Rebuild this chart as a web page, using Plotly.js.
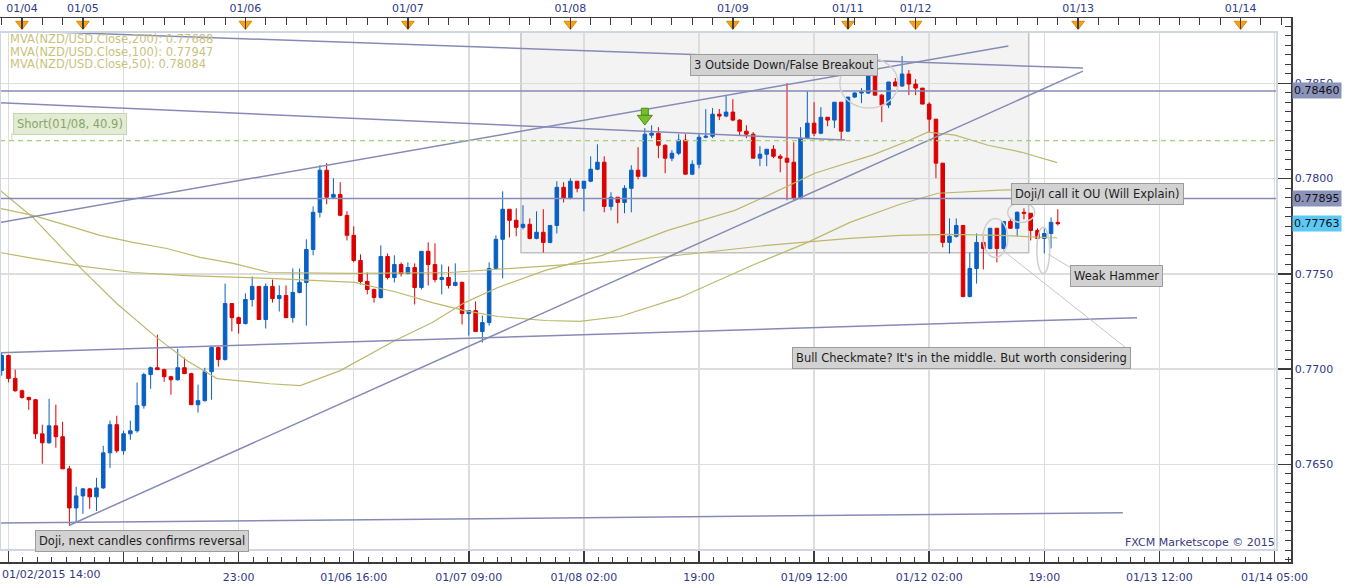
<!DOCTYPE html>
<html><head><meta charset="utf-8">
<script src="https://cdn.plot.ly/plotly-3.0.1.min.js"></script>
<style>html,body{margin:0;padding:0;background:#fff;}#chart{width:1349px;height:588px;}</style>
</head><body><div id="chart"></div>
<script>
// ---------------- data (NZD/USD hourly) ----------------
const open = [0.76992,0.77071,0.76951,0.76886,0.76851,0.76839,0.76660,0.76613,0.76702,0.76645,
0.76476,0.76271,0.76334,0.76371,0.76329,0.76376,0.76560,0.76708,0.76571,0.76660,
0.76676,0.76808,0.76971,0.77007,0.76997,0.76960,0.76944,0.77007,0.76976,0.76813,
0.76834,0.76986,0.77113,0.77050,0.77344,0.77270,0.77239,0.77365,0.77434,0.77260,
0.77434,0.77370,0.77386,0.77270,0.77402,0.77455,0.77628,0.77823,0.78044,0.77902,
0.77917,0.77807,0.77702,0.77570,0.77460,0.77418,0.77376,0.77591,0.77481,0.77549,
0.77502,0.77533,0.77428,0.77618,0.77549,0.77470,0.77481,0.77439,0.77455,0.77291,
0.77307,0.77197,0.77244,0.77528,0.77681,0.77839,0.77781,0.77744,0.77760,0.77686,
0.77718,0.77665,0.77754,0.77954,0.77896,0.77986,0.77949,0.77986,0.78049,0.78086,
0.77854,0.77902,0.77875,0.77949,0.78044,0.78012,0.78228,0.78238,0.78175,0.78107,
0.78133,0.78202,0.78023,0.78075,0.78217,0.78222,0.78338,0.78328,0.78349,0.78307,
0.78249,0.78233,0.78107,0.78128,0.78154,0.78117,0.78107,0.78086,0.77896,0.78212,
0.78291,0.78238,0.78322,0.78307,0.78401,0.78249,0.78428,0.78449,0.78449,0.78543,
0.78438,0.78386,0.78507,0.78486,0.78549,0.78496,0.78475,0.78391,0.78312,0.78081,
0.77665,0.77697,0.77754,0.77381,0.77528,0.77665,0.77633,0.77739,0.77633,0.77775,
0.77739,0.77823,0.77818,0.77728,0.77686,0.77712,0.77770];
const high = [0.77086,0.77076,0.76997,0.76892,0.76855,0.76844,0.76708,0.76844,0.76813,0.76723,
0.76492,0.76382,0.76376,0.76376,0.76429,0.76597,0.76729,0.76755,0.76676,0.76729,
0.76929,0.76981,0.77013,0.77181,0.77002,0.76965,0.77107,0.77060,0.76981,0.76918,
0.77007,0.77118,0.77118,0.77449,0.77344,0.77276,0.77397,0.77486,0.77434,0.77449,
0.77470,0.77439,0.77439,0.77528,0.77528,0.77681,0.77854,0.78070,0.78081,0.78002,
0.77981,0.77828,0.77749,0.77602,0.77507,0.77423,0.77649,0.77607,0.77597,0.77560,
0.77560,0.77555,0.77618,0.77665,0.77660,0.77549,0.77539,0.77555,0.77460,0.77307,
0.77355,0.77281,0.77560,0.77702,0.77933,0.77839,0.77844,0.77860,0.77791,0.77828,
0.77839,0.77754,0.77986,0.77981,0.78002,0.77986,0.77986,0.78117,0.78180,0.78117,
0.77928,0.77902,0.77965,0.78070,0.78165,0.78265,0.78280,0.78270,0.78180,0.78149,
0.78233,0.78233,0.78096,0.78238,0.78365,0.78370,0.78365,0.78433,0.78417,0.78312,
0.78280,0.78244,0.78170,0.78154,0.78175,0.78128,0.78501,0.78191,0.78270,0.78459,
0.78401,0.78375,0.78322,0.78401,0.78401,0.78428,0.78454,0.78475,0.78549,0.78543,
0.78444,0.78507,0.78528,0.78643,0.78570,0.78522,0.78475,0.78401,0.78312,0.78081,
0.77791,0.77791,0.77754,0.77612,0.77712,0.77712,0.77739,0.77739,0.77775,0.77791,
0.77828,0.77844,0.77818,0.77739,0.77739,0.77796,0.77839];
const low = [0.76965,0.76930,0.76881,0.76844,0.76786,0.76634,0.76503,0.76608,0.76587,0.76476,
0.76176,0.76192,0.76240,0.76266,0.76255,0.76371,0.76481,0.76560,0.76550,0.76629,
0.76666,0.76792,0.76897,0.76997,0.76934,0.76865,0.76939,0.76976,0.76813,0.76771,
0.76829,0.76839,0.77013,0.77044,0.77197,0.77186,0.77234,0.77328,0.77260,0.77213,
0.77349,0.77302,0.77270,0.77244,0.77397,0.77228,0.77597,0.77796,0.77865,0.77896,
0.77802,0.77675,0.77560,0.77444,0.77392,0.77349,0.77370,0.77470,0.77455,0.77486,
0.77497,0.77339,0.77418,0.77439,0.77455,0.77392,0.77423,0.77434,0.77234,0.77176,
0.77197,0.77139,0.77228,0.77523,0.77476,0.77691,0.77697,0.77733,0.77681,0.77681,
0.77612,0.77660,0.77712,0.77875,0.77891,0.77928,0.77828,0.77981,0.78044,0.77823,
0.77833,0.77765,0.77818,0.77823,0.77996,0.78007,0.78212,0.78107,0.78028,0.78091,
0.78123,0.78023,0.78018,0.78054,0.78212,0.78212,0.78307,0.78322,0.78301,0.78228,
0.78212,0.78107,0.78065,0.78065,0.78107,0.78033,0.77886,0.77886,0.77891,0.78207,
0.78223,0.78233,0.78275,0.78265,0.78202,0.78244,0.78423,0.78396,0.78444,0.78438,
0.78296,0.78370,0.78486,0.78481,0.78438,0.78438,0.78391,0.78244,0.78002,0.77639,
0.77607,0.77691,0.77376,0.77376,0.77449,0.77523,0.77628,0.77560,0.77628,0.77739,
0.77697,0.77786,0.77675,0.77665,0.77607,0.77633,0.77754];
const close = [0.77071,0.76951,0.76886,0.76851,0.76839,0.76660,0.76613,0.76702,0.76645,0.76476,
0.76271,0.76334,0.76371,0.76329,0.76376,0.76560,0.76708,0.76571,0.76660,0.76676,
0.76808,0.76971,0.77007,0.76997,0.76960,0.76944,0.77007,0.76976,0.76813,0.76834,
0.76986,0.77113,0.77050,0.77344,0.77270,0.77239,0.77365,0.77434,0.77260,0.77434,
0.77370,0.77386,0.77270,0.77402,0.77455,0.77628,0.77823,0.78044,0.77902,0.77917,
0.77807,0.77702,0.77570,0.77460,0.77418,0.77376,0.77591,0.77481,0.77549,0.77502,
0.77533,0.77428,0.77618,0.77549,0.77470,0.77481,0.77439,0.77455,0.77291,0.77307,
0.77197,0.77244,0.77528,0.77681,0.77839,0.77781,0.77744,0.77760,0.77686,0.77718,
0.77665,0.77754,0.77954,0.77896,0.77986,0.77949,0.77986,0.78049,0.78086,0.77854,
0.77902,0.77875,0.77949,0.78044,0.78012,0.78233,0.78238,0.78175,0.78107,0.78133,
0.78202,0.78023,0.78075,0.78217,0.78222,0.78338,0.78328,0.78349,0.78307,0.78249,
0.78233,0.78107,0.78128,0.78154,0.78117,0.78107,0.78086,0.77896,0.78212,0.78291,
0.78238,0.78322,0.78307,0.78401,0.78249,0.78428,0.78449,0.78454,0.78543,0.78438,
0.78386,0.78507,0.78486,0.78549,0.78496,0.78475,0.78391,0.78312,0.78081,0.77665,
0.77697,0.77754,0.77381,0.77528,0.77665,0.77633,0.77739,0.77633,0.77775,0.77739,
0.77823,0.77818,0.77728,0.77686,0.77712,0.77770,0.77763];

// moving averages, read as (bar position, value) points
const ma200X = [-0.25,4.62,9.65,14.52,19.4,24.4,29.3,34.2,39.6,51.4,66.2,80.3,88.4,98.3,113.0,125.3,132.7,140.1,147.5,155.9];
const ma200Y = [0.77844,0.77807,0.77754,0.77702,0.77665,0.77633,0.77586,0.77555,0.77507,0.77502,0.77507,0.77539,0.77560,0.77591,0.77649,0.77686,0.77702,0.77707,0.77702,0.77688];
const ma100X = [-0.25,4.62,12.0,19.4,27.4,39.6,52.2,58.5,63.6,68.4,73.3,80.3,85.4,91.3,100.2,110.8,118.7,125.3,132.7,138.3,147.5,155.9];
const ma100Y = [0.77612,0.77581,0.77539,0.77507,0.77491,0.77476,0.77455,0.77402,0.77349,0.77307,0.77276,0.77255,0.77250,0.77276,0.77376,0.77544,0.77660,0.77770,0.77865,0.77923,0.77939,0.77947];
const ma50X = [-0.25,4.62,12.0,17.0,22.9,27.4,31.8,39.6,44.1,50.0,58.1,63.6,68.4,73.3,80.3,88.7,98.4,108.3,113.2,120.1,128.6,133.4,136.8,140.8,145.7,150.7,155.9];
const ma50Y = [0.77939,0.77796,0.77518,0.77344,0.77165,0.77044,0.76950,0.76923,0.76913,0.76992,0.77150,0.77244,0.77349,0.77428,0.77518,0.77597,0.77728,0.77833,0.77912,0.78028,0.78123,0.78191,0.78244,0.78228,0.78175,0.78138,0.78084];
const maLegend = ['MVA(NZD/USD.Close,200): 0.77688','MVA(NZD/USD.Close,100): 0.77947','MVA(NZD/USD.Close,50): 0.78084'];

// drawn trend lines (start/end bar position and price)
const trendA = {x:[-0.25,159.7], y:[0.78779,0.78580]};
const trendB = {x:[-0.25,124.6], y:[0.78398,0.78202]};
const trendC = {x:[-0.25,148.7], y:[0.77770,0.78696]};
const trendD = {x:[10.0,159.7], y:[0.76180,0.78564]};
const trendE = {x:[-0.25,167.7], y:[0.77086,0.77270]};
const trendF = {x:[-0.25,165.6], y:[0.76192,0.76245]};
const levelLines = [0.78460, 0.77895];
const shortLevel = 0.78199;
const lastPrice = 0.77763;

// axes ticks / labels
const gridX = [1,18,35,52,69,86,103,120,137,154,171,188];
const bottomLabels = ['','','23:00','01/06 16:00','01/07 09:00','01/08 02:00','19:00','01/09 12:00','01/12 02:00','19:00','01/13 12:00','01/14 05:00'];
const dayX = [3,12,36,60,84,108,125,135,159,183];
const dayLabels = ['01/04','01/05','01/06','01/07','01/08','01/09','01/11','01/12','01/13','01/14'];
const priceTicks = [0.7650,0.7700,0.7750,0.7800,0.7850];

// ---------------- chart ----------------
const idx = open.map((_, i) => i);
const W = 1291, H = 544;            // paper size inside margins
const xr = [-0.25, -0.25 + 1277/6.77];
const xr2 = [-0.25, -0.25 + 1291/6.77];
const yr = [0.760501, 0.787695];
const ppx = (yr[1]-yr[0])/518;
const yr2 = [yr[0]-12*ppx, yr[1]+14*ppx];

const maColor = '#bdb86c';
const trendColor = '#868bb6';
const traces = [];
function line(x, y, color, width, dash) {
  traces.push({type:'scatter', mode:'lines', x:x, y:y, xaxis:'x', yaxis:'y',
    line:{color:color, width:width, dash:dash||'solid'}, hoverinfo:'skip'});
}
line(ma200X, ma200Y, maColor, 1.2);
line(ma100X, ma100Y, maColor, 1.2);
line(ma50X, ma50Y, maColor, 1.2);
[trendA, trendB, trendC, trendD, trendE, trendF].forEach(t => line(t.x, t.y, trendColor, 1.5));
levelLines.forEach(v => line([xr[0], xr[1]], [v, v], trendColor, 1.5));
line([xr[0], xr[1]], [shortLevel, shortLevel], '#a4d07c', 1.3, '5px,4px');

traces.push({type:'candlestick', x:idx, open:open, high:high, low:low, close:close,
  xaxis:'x', yaxis:'y', whiskerwidth:0,
  increasing:{line:{color:'#0860c4', width:1}, fillcolor:'#0860c4'},
  decreasing:{line:{color:'#dc0000', width:1}, fillcolor:'#dc0000'},
  hoverinfo:'skip'});

// green short-entry arrow above bar 95 (shaft + head)
traces.push({type:'scatter', mode:'markers', x:[95], y:[high[95] + 0.00086], xaxis:'x', yaxis:'y',
  marker:{symbol:'square', size:7, color:'#76bf2e', line:{color:'#4d8f14', width:1}}, hoverinfo:'skip'});
traces.push({type:'scatter', mode:'markers', x:[95], y:[high[95] + 0.00050], xaxis:'x', yaxis:'y',
  marker:{symbol:'triangle-down', size:13, color:'#76bf2e', line:{color:'#4d8f14', width:1}}, hoverinfo:'skip'});

// frame axes subplot (dummy) + day markers on top axis
traces.push({type:'scatter', mode:'markers', x:[], y:[], xaxis:'x2', yaxis:'y2', hoverinfo:'skip'});
traces.push({type:'scatter', mode:'markers', x:dayX, y:dayX.map(() => yr2[1] - 6*ppx), xaxis:'x3', yaxis:'y2',
  marker:{symbol:'triangle-down', size:11, color:'#f7a11a', line:{color:'#e08800', width:1}},
  cliponaxis:false, hoverinfo:'skip'});

const tickFont = {family:'DejaVu Sans', size:11, color:'#2f3a88'};
const axisDark = '#3c3c3c';

const boxFont = {family:'DejaVu Sans', size:11.5, color:'#1e1e1e'};
function note(text, x, y) {
  return {xref:'x', yref:'y', x:x, y:y, text:text, showarrow:false, bgcolor:'#d2d2d2',
    bordercolor:'#9c9c9c', borderwidth:1, borderpad:3, font:boxFont};
}
function tag(value, bg) {
  return {xref:'paper', yref:'y', x:1, y:value, xanchor:'left', xshift:1, text:value.toFixed(5),
    showarrow:false, bgcolor:bg, borderpad:1, font:{family:'DejaVu Sans', size:11, color:'#111'}};
}
const annotations = [
  note('3 Outside Down/False Breakout', 115.6, 0.78596),
  note('Doji/I call it OU (Will Explain)', 161.8, 0.77917),
  note('Weak Hammer', 164.7, 0.77486),
  note("Bull Checkmate? It's in the middle. But worth considering", 141.7, 0.77060),
  note('Doji, next candles confirms reversal', 20.7, 0.76097),
  {xref:'x', yref:'y', x:10.1, y:0.78286, text:'Short(01/08, 40.9)', showarrow:false,
    bgcolor:'#e1ecd2', bordercolor:'#c6d7b0', borderwidth:1, borderpad:3,
    font:{family:'DejaVu Sans', size:11.5, color:'#8ba46c'}},
  tag(levelLines[0], '#8c93ba'),
  tag(levelLines[1], '#8c93ba'),
  tag(lastPrice, '#5cc8f6'),
  {xref:'paper', yref:'paper', x:0, y:(562-574)/H, xanchor:'left', yanchor:'middle', text:'01/02/2015 14:00',
    showarrow:false, font:tickFont},
  {xref:'paper', yref:'paper', x:1277/W, y:(562-542)/H, xanchor:'right', yanchor:'middle',
    text:'FXCM Marketscope © 2015', showarrow:false, font:{family:'DejaVu Sans', size:11, color:'#3a3a80'}}
];
maLegend.forEach((t, k) => annotations.push({xref:'paper', yref:'paper', x:8/W, y:(562-[39,52,64][k])/H,
  xanchor:'left', yanchor:'middle', text:t, showarrow:false,
  font:{family:'DejaVu Sans', size:11.5, color:'#c9c27e'}}));

const ell = (x0, x1, y0, y1) => ({type:'circle', xref:'x', yref:'y', x0:x0, x1:x1, y0:y0, y1:y1,
  line:{color:'#cfcfcf', width:1.5}, layer:'above'});
const seg = (x0, y0, x1, y1) => ({type:'line', xref:'x', yref:'y', x0:x0, y0:y0, x1:x1, y1:y1,
  line:{color:'#c6c6c6', width:1}, layer:'above'});
const shapes = [
  {type:'rect', xref:'x', yref:'y', x0:76.7, x1:151.7, y0:0.77611, y1:yr[1], layer:'below',
    fillcolor:'#f3f3f3', line:{color:'#c2c2c2', width:1.5}},
  ell(123.8, 132.4, 0.78370, 0.78632),
  ell(148.6, 152.6, 0.77770, 0.77875),
  ell(144.95, 148.6, 0.77586, 0.77791),
  ell(152.9, 154.8, 0.77502, 0.77744),
  seg(147.9, 0.77623, 166.4, 0.77102),
  seg(154.6, 0.77602, 158.1, 0.77528),
  {type:'line', xref:'x', yref:'y', x0:1.5, x1:1.5, y0:0.78240, y1:shortLevel, line:{color:'#c6d7b0', width:1}},
  {type:'rect', xref:'paper', yref:'paper', x0:0, x1:1277/W, y0:12/H, y1:530/H,
    line:{color:'#cdd6e2', width:2}, layer:'above'}
];

const layout = {
  width:1349, height:588,
  margin:{l:0, r:58, t:18, b:26, pad:0},
  paper_bgcolor:'#ffffff', plot_bgcolor:'rgba(0,0,0,0)',
  showlegend:false, boxgap:0.25, hovermode:false,
  font:{family:'DejaVu Sans', size:11, color:'#333'},
  xaxis:{domain:[0, 1277/W], range:xr, anchor:'y', showticklabels:false, ticks:'',
    tickmode:'array', tickvals:gridX, showgrid:true, gridcolor:'#dddddd', gridwidth:1.5,
    zeroline:false, showline:false, rangeslider:{visible:false}, fixedrange:true},
  yaxis:{domain:[12/H, 530/H], range:yr, anchor:'x', side:'right', showticklabels:false, ticks:'',
    tickmode:'array', tickvals:priceTicks, showgrid:true, gridcolor:'#dddddd', gridwidth:1.5,
    zeroline:false, showline:false, fixedrange:true},
  xaxis2:{domain:[0,1], range:xr2, anchor:'y2', side:'bottom', showline:true, linecolor:axisDark, linewidth:1.5,
    ticks:'inside', ticklen:12, tickwidth:1.5, tickcolor:axisDark, tickmode:'array', tickvals:gridX,
    ticktext:bottomLabels, tickfont:tickFont, ticklabelstandoff:4, showgrid:false, zeroline:false,
    minor:{ticks:'inside', tickmode:'linear', tick0:1, dtick:17/8, ticklen:5, tickwidth:1, tickcolor:axisDark, showgrid:false},
    fixedrange:true},
  xaxis3:{range:xr2, overlaying:'x2', anchor:'y2', side:'top', showline:true, linecolor:axisDark, linewidth:1.5,
    ticks:'inside', ticklen:11, tickwidth:1.5, tickcolor:axisDark, tickmode:'array', tickvals:dayX,
    ticktext:dayLabels, tickfont:tickFont, showgrid:false, zeroline:false,
    minor:{ticks:'inside', tickmode:'linear', tick0:0, dtick:3, ticklen:7, tickwidth:1, tickcolor:axisDark, showgrid:false},
    fixedrange:true},
  yaxis2:{domain:[0,1], range:yr2, anchor:'x2', side:'right', showline:true, linecolor:axisDark, linewidth:1.5,
    ticks:'inside', ticklen:14, tickwidth:1.5, tickcolor:axisDark, tickmode:'array', tickvals:priceTicks,
    ticktext:priceTicks.map(v => v.toFixed(4)), tickfont:tickFont, showgrid:false, zeroline:false,
    minor:{ticks:'inside', tickmode:'linear', tick0:0.76, dtick:0.0005, ticklen:6, tickwidth:1, tickcolor:axisDark, showgrid:false},
    fixedrange:true},
  shapes:shapes,
  annotations:annotations
};

Plotly.newPlot('chart', traces, layout, {displayModeBar:false, staticPlot:true});
</script>
</body></html>
